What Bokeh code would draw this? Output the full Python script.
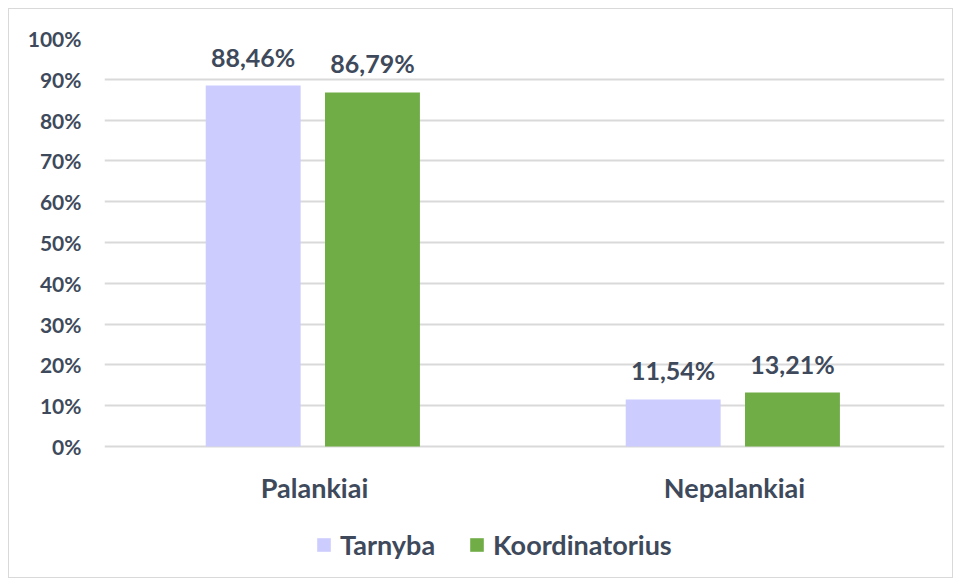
from bokeh.plotting import figure
from bokeh.models import ColumnDataSource, FactorRange, Legend, LegendItem, PrintfTickFormatter, FixedTicker, LabelSet
from bokeh.transform import dodge
from bokeh.core.properties import value
from bokeh.embed import file_html
from bokeh.resources import INLINE

categories = ["Palankiai", "Nepalankiai"]
series_names = ["Tarnyba", "Koordinatorius"]
tarnyba = [88.46, 11.54]
koordinatorius = [86.79, 13.21]
y_ticks = [0, 10, 20, 30, 40, 50, 60, 70, 80, 90, 100]
colors = ["#CCCCFF", "#70AD47"]

TEXT = "#3E4A5B"
FONT = "Lato"

def fmt(v):
    return f"{v:.2f}".replace(".", ",") + "%"

src = ColumnDataSource(dict(
    cat=categories,
    t=tarnyba,
    k=koordinatorius,
    tl=[fmt(v) for v in tarnyba],
    kl=[fmt(v) for v in koordinatorius],
))

p = figure(x_range=FactorRange(*categories), y_range=(-32.1, 100),
           width=945, height=570, output_backend="svg", toolbar_location=None,
           min_border_left=95, min_border_right=10, min_border_top=29, min_border_bottom=2)
p.margin = (8, 0, 0, 8)
p.styles = {"border": "1px solid #d9d9d9"}

r1 = p.vbar(x=dodge("cat", -0.146, range=p.x_range), top="t", width=0.226, source=src,
            color=colors[0], line_color=None)
r2 = p.vbar(x=dodge("cat", 0.138, range=p.x_range), top="k", width=0.226, source=src,
            color=colors[1], line_color=None)

for xo, col in [(-0.146, "t"), (0.138, "k")]:
    lab = LabelSet(x=dodge("cat", xo, range=p.x_range), y=col, text=col + "l", source=src,
                   text_align="center", text_baseline="bottom", y_offset=14,
                   text_font=value(FONT), text_font_style="bold", text_font_size="25px",
                   text_color=TEXT)
    p.add_layout(lab)

p.outline_line_color = None
p.xgrid.grid_line_color = None
p.ygrid.grid_line_color = "#d9d9d9"
p.ygrid.grid_line_width = 2
p.yaxis.ticker = FixedTicker(ticks=y_ticks)
p.yaxis.formatter = PrintfTickFormatter(format="%d%%")
for ax in (p.xaxis, p.yaxis):
    ax.axis_line_color = None
    ax.major_tick_line_color = None
    ax.minor_tick_line_color = None
    ax.major_label_text_font = FONT
    ax.major_label_text_font_style = "bold"
    ax.major_label_text_color = TEXT
p.yaxis.major_label_text_font_size = "21px"
p.yaxis.major_label_standoff = 17
p.xaxis.major_label_text_font_size = "27px"
p.xaxis.major_label_standoff = 18
p.xaxis.fixed_location = 0

legend = Legend(items=[LegendItem(label=series_names[0], renderers=[r1]),
                       LegendItem(label=series_names[1], renderers=[r2])],
                orientation="horizontal", location=(211, 16),
                label_text_font=FONT, label_text_font_style="bold", label_text_font_size="27px",
                label_text_color=TEXT, glyph_width=17, glyph_height=17, spacing=33,
                padding=0, margin=0, border_line_color=None, background_fill_alpha=0,
                label_standoff=8)
p.add_layout(legend)

open("out.html", "w").write(file_html(p, INLINE))
